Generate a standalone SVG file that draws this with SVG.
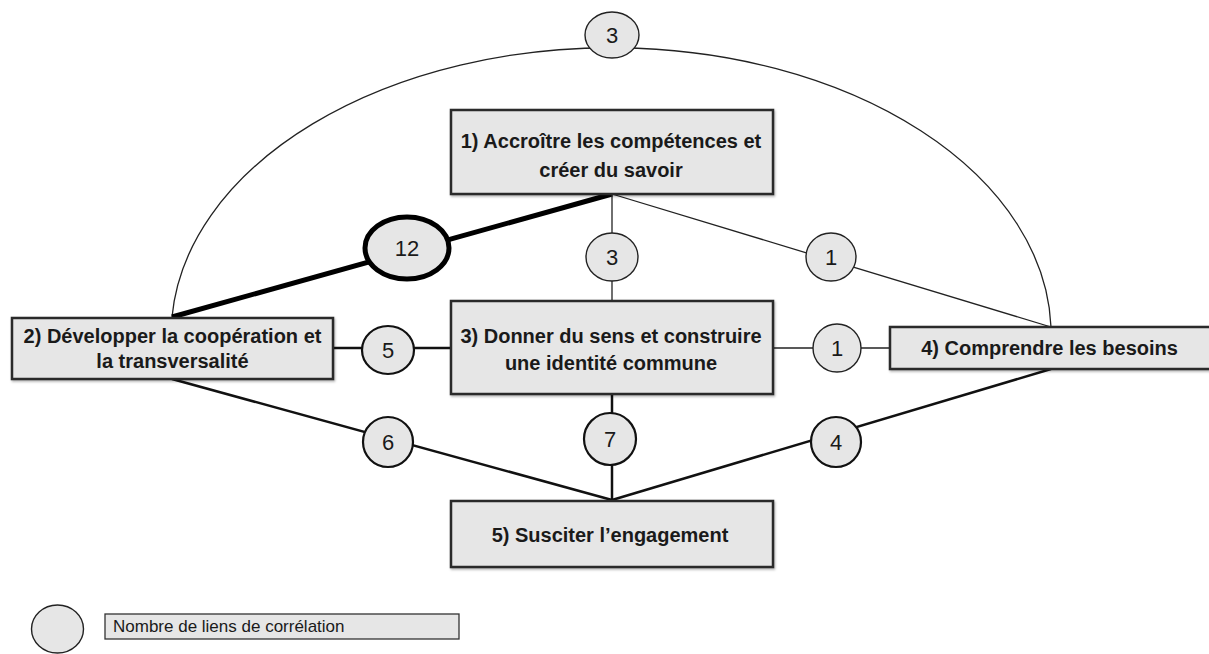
<svg xmlns="http://www.w3.org/2000/svg" width="1209" height="654" viewBox="0 0 1209 654">
  <defs>
    <filter id="shadow" x="-5%" y="-10%" width="110%" height="130%">
      <feDropShadow dx="1" dy="1.5" stdDeviation="1.2" flood-color="#000" flood-opacity="0.3"/>
    </filter>
    <style>
      .box { fill: #e6e6e6; stroke: #2a2a2a; stroke-width: 2.5; filter: url(#shadow); }
      .lbl { font-family: "Liberation Sans", Arial, sans-serif; font-weight: bold; font-size: 20px; fill: #1a1a1a; text-anchor: middle; }
      .num { font-family: "Liberation Sans", Arial, sans-serif; font-size: 22px; fill: #1a1a1a; text-anchor: middle; }
      .thin { stroke: #222; stroke-width: 1.3; fill: none; }
      .mid { stroke: #111; stroke-width: 2.5; fill: none; }
      .thick { stroke: #000; stroke-width: 5; fill: none; }
      .c-thin { fill: #e6e6e6; stroke: #222; stroke-width: 1.4; }
      .c-mid { fill: #e6e6e6; stroke: #111; stroke-width: 2.2; }
      .c-thick { fill: #e6e6e6; stroke: #000; stroke-width: 5; }
      .legend { font-family: "Liberation Sans", Arial, sans-serif; font-size: 17px; fill: #1a1a1a; }
    </style>
  </defs>
  <rect width="1209" height="654" fill="#ffffff"/>

  <!-- connectors -->
  <g id="connectors">
    <path class="thin" d="M172,317 A440,287 0 0 1 1051,327"/>
    <line class="thick" x1="612" y1="194" x2="172" y2="317"/>
    <line class="thin" x1="612" y1="194" x2="612" y2="301"/>
    <line class="thin" x1="612" y1="194" x2="1051" y2="327"/>
    <line class="mid" x1="333" y1="348" x2="451" y2="348"/>
    <line class="thin" x1="773" y1="348" x2="890" y2="348"/>
    <line class="mid" x1="172" y1="379" x2="612" y2="500"/>
    <line class="mid" x1="612" y1="394" x2="612" y2="501"/>
    <line class="mid" x1="1051" y1="369" x2="612" y2="500"/>
  </g>

  <!-- correlation counts -->
  <g id="counts">
    <g id="count-top"><ellipse class="c-thin" cx="612" cy="35" rx="27" ry="23"/><text class="num" x="612" y="43">3</text></g>
    <g id="count-12"><ellipse class="c-thick" cx="407" cy="248" rx="42" ry="31"/><text class="num" x="407" y="256">12</text></g>
    <g id="count-13"><ellipse class="c-thin" cx="612" cy="257" rx="26" ry="24"/><text class="num" x="612" y="265">3</text></g>
    <g id="count-14"><ellipse class="c-thin" cx="831" cy="257" rx="25" ry="24"/><text class="num" x="831" y="265">1</text></g>
    <g id="count-23"><ellipse class="c-mid" cx="388" cy="350" rx="26" ry="24"/><text class="num" x="388" y="358">5</text></g>
    <g id="count-34"><ellipse class="c-thin" cx="837" cy="348" rx="24" ry="24"/><text class="num" x="837" y="356">1</text></g>
    <g id="count-25"><ellipse class="c-mid" cx="388" cy="442" rx="25" ry="25"/><text class="num" x="388" y="450">6</text></g>
    <g id="count-35"><ellipse class="c-mid" cx="610" cy="439" rx="26" ry="26"/><text class="num" x="610" y="447">7</text></g>
    <g id="count-45"><ellipse class="c-mid" cx="836" cy="442" rx="25" ry="25"/><text class="num" x="836" y="450">4</text></g>
  </g>

  <!-- objectives -->
  <g id="node1">
    <rect class="box" x="451" y="110" width="322" height="84"/>
    <text class="lbl" x="611" y="148">1) Accroître les compétences et</text>
    <text class="lbl" x="611" y="177">créer du savoir</text>
  </g>
  <g id="node2">
    <rect class="box" x="12" y="318" width="321" height="61"/>
    <text class="lbl" x="172.5" y="343">2) Développer la coopération et</text>
    <text class="lbl" x="172.5" y="368">la transversalité</text>
  </g>
  <g id="node3">
    <rect class="box" x="451" y="301" width="322" height="93"/>
    <text class="lbl" x="611" y="343">3) Donner du sens et construire</text>
    <text class="lbl" x="611" y="370">une identité commune</text>
  </g>
  <g id="node4">
    <rect class="box" x="890" y="327" width="322" height="42"/>
    <text class="lbl" x="1049.5" y="355">4) Comprendre les besoins</text>
  </g>
  <g id="node5">
    <rect class="box" x="451" y="501" width="322" height="66"/>
    <text class="lbl" x="610" y="542">5) Susciter l’engagement</text>
  </g>

  <!-- legend -->
  <g id="legend">
    <ellipse class="c-thin" cx="57.5" cy="629" rx="26" ry="24"/>
    <rect x="105" y="614" width="354" height="25" fill="#e6e6e6" stroke="#333" stroke-width="1.3"/>
    <text class="legend" x="113" y="632">Nombre de liens de corrélation</text>
  </g>
</svg>
